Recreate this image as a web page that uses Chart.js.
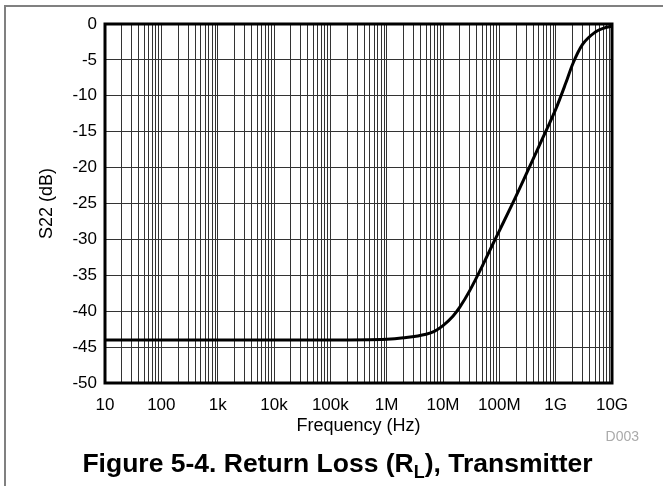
<!DOCTYPE html>
<html>
<head>
<meta charset="utf-8">
<script src="https://cdn.jsdelivr.net/npm/chart.js@4.4.1/dist/chart.umd.min.js"></script>
<style>
  body { margin: 0; background: #fff; }
  #wrap { position: relative; width: 663px; height: 486px; overflow: hidden; font-family: "Liberation Sans", Arial, sans-serif; }
  #c { position: absolute; left: 0; top: 0; }
  #frame { position: absolute; left: 4px; top: 5px; width: 700px; height: 600px; border-left: 2px solid #808080; border-top: 2px solid #808080; pointer-events: none; }
  #code { position: absolute; right: 24px; top: 428px; font-size: 14px; line-height: 16px; color: #aaa; }
  #title { position: absolute; left: 0; width: 675px; top: 448px; text-align: center; font-size: 26.5px; line-height: 30px; font-weight: bold; color: #000; }
  #title sub { font-size: 18px; vertical-align: -6px; line-height: 0; }
</style>
</head>
<body>
<div id="wrap">
  <canvas id="c" width="663" height="486"></canvas>
  <div id="frame"></div>
  <div id="code">D003</div>
  <div id="title">Figure 5-4. Return Loss (R<sub>L</sub>), Transmitter</div>
</div>
<script>
// S22 curve
var freq = [10, 100, 1e3, 1e4, 1e5, 1e6, 2e6, 5e6, 7e6, 1e7, 1.5e7, 2e7, 3e7, 5e7, 7e7, 1e8, 2e8, 3e8, 5e8, 7e8, 1e9, 1.5e9, 2e9, 3e9, 5e9, 7e9, 1e10];
var s22 = [-44, -44, -44, -44, -44, -43.9, -43.7, -43.2, -42.8, -42.0, -40.7, -39.4, -37.1, -33.7, -31.3, -28.8, -23.9, -20.9, -17.1, -14.6, -11.9, -8.3, -5.6, -2.85, -1.15, -0.6, -0.3];

var xTickValues = [10, 100, 1e3, 1e4, 1e5, 1e6, 1e7, 1e8, 1e9, 1e10];
var xTickLabels = ['10', '100', '1k', '10k', '100k', '1M', '10M', '100M', '1G', '10G'];

var points = [];
for (var k = 0; k < freq.length; k++) {
  points.push({x: freq[k], y: s22[k]});
}

var fontFam = '"Liberation Sans", Arial, sans-serif';

// thick box round the plot area
const boxPlugin = {
  id: 'box',
  beforeDatasetsDraw(chart) {
    const a = chart.chartArea;
    const ctx = chart.ctx;
    ctx.save();
    ctx.strokeStyle = '#000';
    ctx.lineWidth = 3;
    ctx.strokeRect(a.left, a.top, a.right - a.left, a.bottom - a.top);
    ctx.restore();
  }
};

const ctx = document.getElementById('c').getContext('2d');
const chart = new Chart(ctx, {
  type: 'line',
  data: {
    datasets: [{
      data: points,
      borderColor: '#000',
      borderWidth: 3,
      pointRadius: 0,
      cubicInterpolationMode: 'monotone',
      fill: false
    }]
  },
  options: {
    responsive: false,
    animation: false,
    layout: { padding: { left: 0, right: 51, top: 24, bottom: 0 } },
    plugins: { legend: { display: false }, tooltip: { enabled: false } },
    scales: {
      x: {
        type: 'logarithmic',
        min: 10,
        max: 1e10,
        afterBuildTicks: function(scale) {
          var t = [];
          for (var d = 0; d < xTickValues.length; d++) {
            var v = xTickValues[d];
            t.push({value: v});
            if (d < xTickValues.length - 1) {
              for (var m = 2; m <= 9; m++) t.push({value: v * m});
            }
          }
          scale.ticks = t;
        },
        afterFit: function(scale) { scale.height = 103; },
        grid: { color: '#333', lineWidth: 1, drawTicks: false },
        border: { display: false },
        ticks: {
          autoSkip: false,
          maxRotation: 0,
          padding: 12,
          color: '#000',
          font: { family: fontFam, size: 17 },
          callback: function(value) {
            var idx = xTickValues.indexOf(value);
            return idx >= 0 ? xTickLabels[idx] : '';
          }
        },
        title: {
          display: true,
          text: 'Frequency (Hz)',
          color: '#000',
          font: { family: fontFam, size: 18 },
          padding: { top: 0, bottom: 49 }
        }
      },
      y: {
        min: -50,
        max: 0,
        afterFit: function(scale) { scale.width = 105; },
        grid: { color: '#333', lineWidth: 1, drawTicks: false },
        border: { display: false },
        ticks: {
          stepSize: 5,
          padding: 8,
          color: '#000',
          font: { family: fontFam, size: 17 }
        },
        title: {
          display: true,
          text: 'S22 (dB)',
          color: '#000',
          font: { family: fontFam, size: 18 },
          padding: { top: 36, bottom: 0 }
        }
      }
    }
  },
  plugins: [boxPlugin]
});
</script>
</body>
</html>
